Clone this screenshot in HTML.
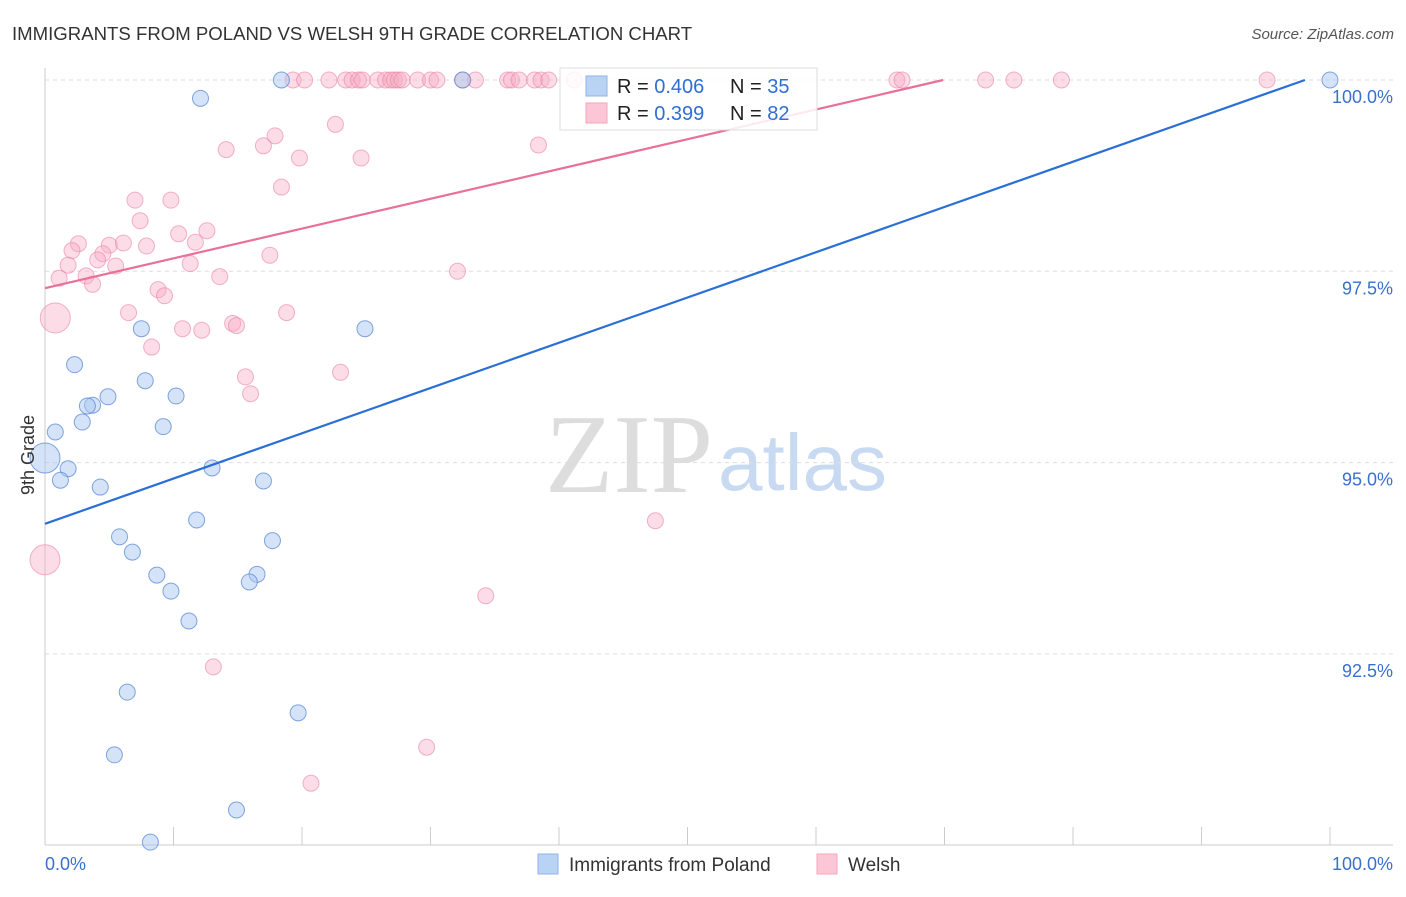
<!DOCTYPE html>
<html><head><meta charset="utf-8"><style>
body{margin:0;background:#fff;font-family:"Liberation Sans",sans-serif;}
</style></head><body>
<svg id="chart" width="1406" height="892" xmlns="http://www.w3.org/2000/svg" font-family="Liberation Sans, sans-serif">
<text x="12" y="40" font-size="18.6" fill="#333">IMMIGRANTS FROM POLAND VS WELSH 9TH GRADE CORRELATION CHART</text>
<text x="1394" y="39" font-size="15" fill="#555" text-anchor="end" font-style="italic">Source: ZipAtlas.com</text>
<text x="713" y="492" font-size="112" fill="#ddd" text-anchor="end" font-family="Liberation Serif, serif">ZIP</text>
<text x="718" y="490" font-size="80" fill="#c8daf2">atlas</text>
<g id="grid"></g><g id="axes"></g><g id="pts"></g><g id="trends"></g>
<text transform="translate(34,455) rotate(-90)" font-size="18" fill="#333" text-anchor="middle">9th Grade</text>
<g>
<rect x="560" y="68" width="257" height="62" fill="#fff" fill-opacity="0.85" stroke="#ddd"/>
<rect x="586" y="76" width="21" height="20" fill="#b9d3f5" stroke="#8fb3e6"/>
<rect x="586" y="103" width="21" height="20" fill="#fcc6d6" stroke="#f3a6bd"/>
<text x="617" y="93" font-size="20" fill="#222">R = <tspan fill="#2f6fd0">0.406</tspan></text>
<text x="730" y="93" font-size="20" fill="#222">N = <tspan fill="#2f6fd0">35</tspan></text>
<text x="617" y="120" font-size="20" fill="#222">R = <tspan fill="#2f6fd0"> 0.399</tspan></text>
<text x="730" y="120" font-size="20" fill="#222">N = <tspan fill="#2f6fd0">82</tspan></text>
</g>
<g>
<rect x="538" y="854" width="20" height="20" fill="#b9d3f5" stroke="#8fb3e6"/>
<text x="569" y="871" font-size="19" fill="#333">Immigrants from Poland</text>
<rect x="817" y="854" width="20" height="20" fill="#fcc6d6" stroke="#f3a6bd"/>
<text x="848" y="871" font-size="19" fill="#333">Welsh</text>
</g>
</svg>
<script>
const blueX=[18.4,32.5,100,12.1,7.5,24.9,2.3,7.8,4.9,10.2,3.7,3.3,2.9,0.8,9.2,0,1.8,1.2,13.0,4.3,17.0,11.8,5.8,17.7,6.8,8.7,16.5,15.9,9.8,11.2,6.4,19.7,5.4,14.9,8.2];
const blueY=[100,100,100,99.76,96.75,96.75,96.28,96.07,95.86,95.87,95.75,95.74,95.53,95.40,95.47,95.06,94.92,94.77,94.93,94.68,94.76,94.25,94.03,93.98,93.83,93.53,93.54,93.44,93.32,92.93,92.00,91.73,91.18,90.46,90.04];
const blueBig=[15];
const pinkX=[19.3,20.2,22.1,23.4,23.9,24.4,24.7,25.9,26.5,26.9,27.2,27.5,27.8,29.0,30.0,30.5,32.5,33.5,36.0,36.3,36.9,38.1,38.6,39.2,41.2,66.3,66.7,73.2,75.4,79.1,95.1,
22.6,17.9,14.1,17.0,19.8,24.6,38.4,18.4,7.0,9.8,7.4,10.4,12.6,2.6,5.0,6.1,7.9,11.7,2.1,4.5,4.1,1.8,5.5,11.3,17.5,1.1,3.2,3.7,13.6,8.8,9.3,32.1,6.5,18.8,0.8,14.6,14.9,10.7,12.2,8.3,15.6,23.0,16.0,47.5,34.3,13.1,29.7,20.7,0];
const pinkY=[100,100,100,100,100,100,100,100,100,100,100,100,100,100,100,100,100,100,100,100,100,100,100,100,100,100,100,100,100,100,100,
99.42,99.27,99.09,99.14,98.98,98.98,99.15,98.60,98.43,98.43,98.16,97.99,98.03,97.86,97.84,97.87,97.83,97.88,97.77,97.73,97.65,97.58,97.57,97.60,97.71,97.41,97.44,97.33,97.43,97.26,97.18,97.50,96.96,96.96,96.89,96.82,96.79,96.75,96.73,96.51,96.12,96.18,95.90,94.24,93.26,92.33,91.28,90.81,93.73];
const pinkBig=[65,79];
const blueTrend=[[0,94.20],[98.05,100]];
const pinkTrend=[[0,97.28],[69.9,100]];
const yTicks=[100,97.5,95,92.5];
const yTickLabels=["100.0%","97.5%","95.0%","92.5%"];
const xTicks=[0,10,20,30,40,50,60,70,80,90,100];
const NS="http://www.w3.org/2000/svg";
const X=v=>45+v*12.85, Y=v=>80+(100-v)*76.52;
function mk(t,a,p){const e=document.createElementNS(NS,t);for(const k in a)e.setAttribute(k,a[k]);document.getElementById(p).appendChild(e);return e;}
yTicks.forEach((t,i)=>{
 let l=mk('line',{x1:45,x2:1393,y1:Y(t),y2:Y(t),stroke:'#ddd','stroke-dasharray':'4,4'},'grid');
 
 
 let tx=mk('text',{x:1393,y:Y(t)+23,'font-size':18,fill:'#3a6fd0','text-anchor':'end'},'axes');tx.textContent=yTickLabels[i];
 
 
});
let ax=mk('line',{x1:45,x2:45,y1:68,y2:845,stroke:'#ccc'},'axes');


let bx=mk('line',{x1:45,x2:1393,y1:845,y2:845,stroke:'#ccc'},'axes');


xTicks.forEach(t=>{let l=mk('line',{x1:X(t),x2:X(t),y1:827,y2:845,stroke:'#ccc'},'axes');
 
 });
[["0.0%",45,'start'],["100.0%",1393,'end']].forEach(d=>{let t=mk('text',{x:d[1],y:870,'font-size':18,fill:'#3a6fd0','text-anchor':d[2]},'axes');t.textContent=d[0];
 
 });
pinkX.forEach((v,i)=>{let c=mk('circle',{cx:X(v),cy:Y(pinkY[i]),r:pinkBig.includes(i)?15:8,fill:'rgba(248,170,195,0.4)',stroke:'rgba(235,130,165,0.6)'},'pts');
 
 });
blueX.forEach((v,i)=>{let c=mk('circle',{cx:X(v),cy:Y(blueY[i]),r:blueBig.includes(i)?15:8,fill:'rgba(170,200,240,0.5)',stroke:'rgba(80,130,210,0.7)'},'pts');
 
 });
let bt=mk('line',{x1:X(blueTrend[0][0]),y1:Y(blueTrend[0][1]),x2:X(blueTrend[1][0]),y2:Y(blueTrend[1][1]),stroke:'#2a6fd6','stroke-width':2.2},'trends');


let pt=mk('line',{x1:X(pinkTrend[0][0]),y1:Y(pinkTrend[0][1]),x2:X(pinkTrend[1][0]),y2:Y(pinkTrend[1][1]),stroke:'#e8709a','stroke-width':2.2},'trends');


</script>
</body></html>
